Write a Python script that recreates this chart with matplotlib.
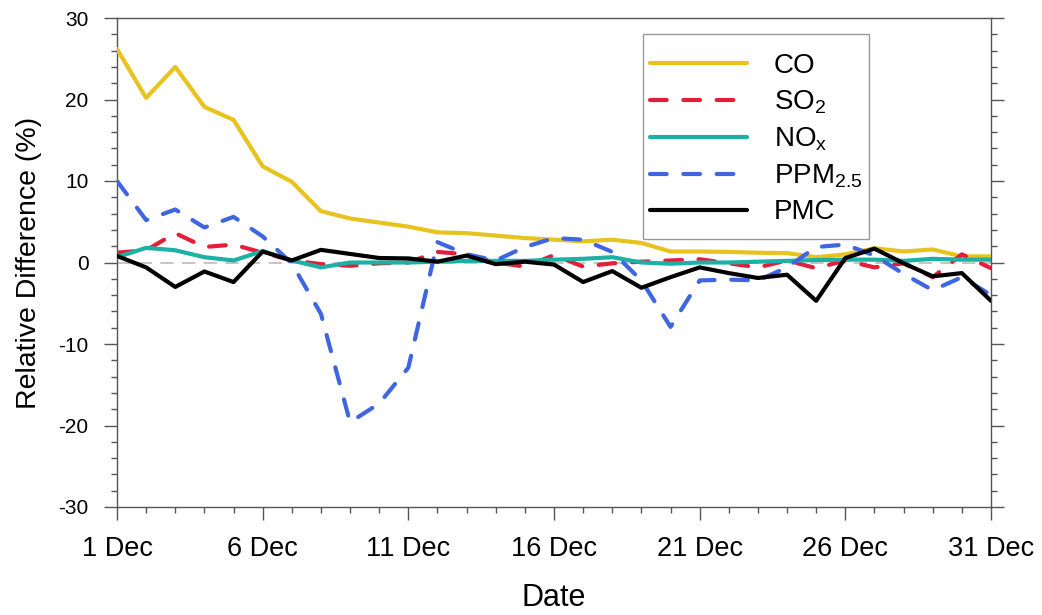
import numpy as np
import matplotlib
matplotlib.use("Agg")
import matplotlib.pyplot as plt
from matplotlib.ticker import MultipleLocator, FixedLocator
from matplotlib.patches import Rectangle

plt.rcParams['font.family'] = ['Liberation Sans', 'DejaVu Sans']
plt.rcParams['mathtext.fontset'] = 'custom'
plt.rcParams['mathtext.rm'] = 'Liberation Sans'
plt.rcParams['mathtext.it'] = 'Liberation Sans'
plt.rcParams['mathtext.bf'] = 'Liberation Sans:bold'
plt.rcParams['axes.unicode_minus'] = False

# days of December
days = np.arange(1, 32)

co = [26.2, 20.2, 24.0, 19.1, 17.5, 11.8, 9.9, 6.3, 5.4, 4.9, 4.4, 3.7, 3.6, 3.3, 3.0,
      2.8, 2.6, 2.8, 2.4, 1.35, 1.35, 1.3, 1.2, 1.15, 0.65, 1.0, 1.75, 1.35, 1.6, 0.75, 0.75]
so2 = [1.2, 1.5, 3.6, 1.9, 2.2, 1.2, 0.25, -0.2, -0.4, -0.1, 0.0, 1.3, 1.0, 0.0, -0.5,
       0.9, -0.5, -0.1, 0.1, 0.25, 0.4, -0.1, -0.6, 0.25, -0.7, 0.25, -0.6, -0.1, -1.8, 1.0, -0.7]
nox = [0.65, 1.8, 1.5, 0.65, 0.25, 1.4, 0.25, -0.6, 0.0, 0.0, 0.0, 0.1, 0.2, 0.2, 0.2,
       0.35, 0.45, 0.65, 0.0, -0.15, 0.0, 0.0, 0.1, 0.2, 0.3, 0.35, 0.35, 0.2, 0.45, 0.35, 0.35]
ppm25 = [10.0, 5.2, 6.5, 4.3, 5.6, 3.2, -0.1, -6.3, -19.6, -17.3, -12.9, 2.5, 1.0, 0.25, 1.9,
         3.0, 2.8, 1.3, -2.2, -7.9, -2.2, -2.1, -2.2, -0.6, 1.9, 2.2, 0.85, -1.4, -3.4, -1.8, -4.0]
pmc = [0.8, -0.6, -3.0, -1.1, -2.4, 1.35, 0.25, 1.55, 1.05, 0.55, 0.5, 0.1, 0.85, -0.2, 0.1,
       -0.25, -2.4, -1.05, -3.1, -1.8, -0.6, -1.3, -1.9, -1.5, -4.7, 0.55, 1.7, -0.1, -1.7, -1.3, -4.7]

tick_days = [1, 6, 11, 16, 21, 26, 31]
tick_labels = ['1 Dec', '6 Dec', '11 Dec', '16 Dec', '21 Dec', '26 Dec', '31 Dec']

W, H = 1042, 615
fig = plt.figure(figsize=(W / 100, H / 100), dpi=100)
ax = fig.add_axes([117 / W, 1 - 507 / H, (991 - 117) / W, (507 - 18) / H])

ax.axhline(0, color='#bbbbbb', lw=1.2, ls=(0, (8, 5)), zorder=1)

lw = 3.0
dash = (0, (4.0, 4.0))
ax.plot(days, co, color='#E8C21E', lw=lw, solid_capstyle='round', label='CO', zorder=3)
ax.plot(days, so2, color='#E41E3A', lw=lw, ls=dash, dash_capstyle='round', label='SO$_2$', zorder=3)
ax.plot(days, nox, color='#1DB0A4', lw=lw, solid_capstyle='round', label='NO$_\\mathrm{x}$', zorder=3)
ax.plot(days, ppm25, color='#3F66E0', lw=lw, ls=dash, dash_capstyle='round', label='PPM$_{2.5}$', zorder=3)
ax.plot(days, pmc, color='black', lw=lw, solid_capstyle='round', label='PMC', zorder=4)

ax.set_xlim(1, 31)
ax.set_ylim(-30, 30)
ax.xaxis.set_major_locator(FixedLocator(tick_days))
ax.set_xticklabels(tick_labels)
ax.xaxis.set_minor_locator(MultipleLocator(1))
ax.yaxis.set_major_locator(MultipleLocator(10))
ax.yaxis.set_minor_locator(MultipleLocator(2))

for sp in ax.spines.values():
    sp.set_color('#555555')
    sp.set_linewidth(1.0)

ax.tick_params(axis='both', which='both', direction='out', color='#555555', width=1.0)
ax.tick_params(axis='y', which='both', left=True, right=True)
ax.tick_params(axis='y', which='major', length=9.5, labelsize=15, pad=11)
ax.tick_params(axis='y', which='minor', length=4.5)
ax.tick_params(axis='x', which='major', length=9, labelsize=19.5, pad=12)
ax.tick_params(axis='x', which='minor', length=4.5)

ax.set_xlabel('Date', fontsize=22, labelpad=15)
ax.set_ylabel('Relative Difference (%)', fontsize=20.5, labelpad=12)

leg = fig.legend(loc='upper left', bbox_to_anchor=(650 / W, 1 - 53 / H),
                 fontsize=20, frameon=False, handlelength=3.5,
                 handletextpad=0.95, labelspacing=0.34, borderpad=0.0, borderaxespad=0)

# frame drawn around the legend with more room above and below than at the sides
fig.canvas.draw()
bb = leg.get_window_extent().transformed(fig.transFigure.inverted())
px, ptop, pbot = 7 / W, 19 / H, 14 / H
fig.add_artist(Rectangle((bb.x0 - px, bb.y0 - pbot), bb.width + 2 * px, bb.height + ptop + pbot,
                         transform=fig.transFigure, fill=False, edgecolor='#999999', lw=1.0))

plt.savefig('out.png', dpi=100)
